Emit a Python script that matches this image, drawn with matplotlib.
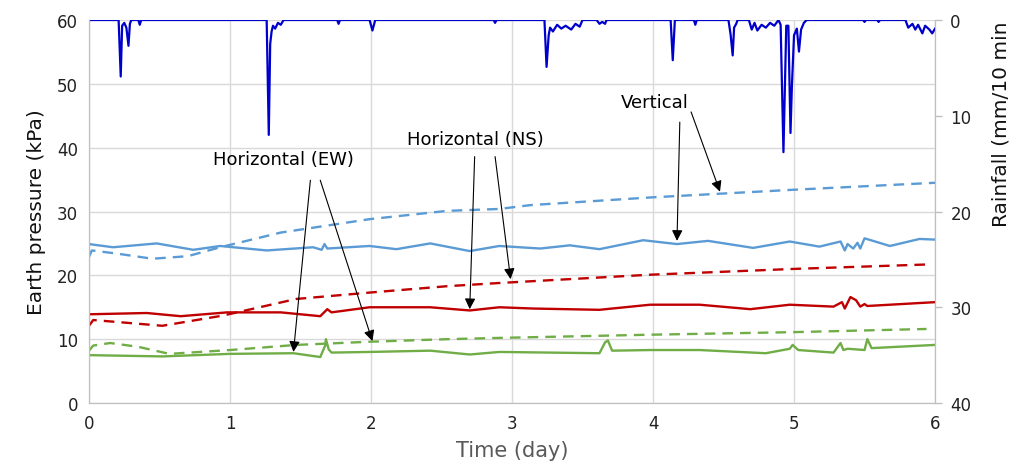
import matplotlib.pyplot as plt
import numpy as np

# rainfall (mm/10 min)
rain_t = [0, 0.21, 0.225, 0.235, 0.25, 0.265, 0.28, 0.29, 0.30, 0.35, 0.36, 0.37,
          1.26, 1.275, 1.285, 1.295, 1.305, 1.32, 1.34, 1.36, 1.38,
          1.76, 1.77, 1.78, 1.99, 2.01, 2.03, 2.87, 2.88, 2.89,
          3.23, 3.245, 3.26, 3.27, 3.29, 3.32, 3.35, 3.38, 3.42, 3.45, 3.48, 3.50,
          3.60, 3.62, 3.64, 3.66, 3.67,
          4.125, 4.14, 4.155, 4.29, 4.30, 4.31,
          4.535, 4.55, 4.565, 4.575, 4.59, 4.60,
          4.68, 4.70, 4.72, 4.74, 4.77, 4.80, 4.83, 4.86, 4.89,
          4.905, 4.925, 4.945, 4.96, 4.975, 4.985, 5.0, 5.02, 5.035, 5.05, 5.07, 5.09,
          5.49, 5.50, 5.51, 5.59, 5.60, 5.61,
          5.79, 5.81, 5.84, 5.86, 5.88, 5.91, 5.93, 5.96, 5.98, 6.0]
rain_v = [0, 0, 5.9, 0.6, 0.3, 0.8, 2.7, 0.4, 0, 0, 0.5, 0,
          0, 12.0, 2.5, 1.2, 0.6, 0.9, 0.3, 0.5, 0,
          0, 0.4, 0, 0, 1.1, 0, 0, 0.3, 0,
          0, 4.9, 1.6, 0.8, 1.2, 0.5, 0.9, 0.6, 1.0, 0.4, 0.7, 0,
          0, 0.4, 0.2, 0.4, 0,
          0, 4.2, 0, 0, 0.5, 0,
          0, 1.5, 3.7, 0.8, 0.4, 0,
          0, 1.0, 0.3, 1.1, 0.5, 0.8, 0.3, 0.6, 0,
          0.5, 13.8, 0.6, 0.6, 11.8, 6.9, 1.6, 0.9, 3.3, 1.0, 0.3, 0,
          0, 0.2, 0, 0, 0.2, 0,
          0, 0.8, 0.4, 1.0, 0.5, 1.4, 0.6, 1.0, 1.4, 0.9]

# vertical earth pressure (kPa)
vert_t = [0, 0.17, 0.48, 0.74, 0.93, 1.26, 1.59, 1.65, 1.67, 1.69, 1.99, 2.18, 2.42,
          2.70, 2.91, 3.20, 3.41, 3.62, 3.93, 4.17, 4.39, 4.71, 4.97, 5.18, 5.33,
          5.36, 5.38, 5.42, 5.45, 5.47, 5.50, 5.68, 5.89, 6.0]
vert_v = [24.9, 24.4, 25.0, 24.0, 24.6, 23.9, 24.4, 24.0, 24.9, 24.2, 24.6, 24.1, 25.0,
          23.8, 24.6, 24.2, 24.7, 24.1, 25.5, 24.9, 25.4, 24.3, 25.3, 24.5, 25.3,
          23.9, 24.9, 24.2, 25.1, 24.2, 25.8, 24.6, 25.7, 25.6]
vert_dash_t = [0, 0.02, 0.2, 0.45, 0.7, 0.93, 1.36, 1.99, 2.54, 2.91, 3.13, 3.98, 4.99, 6.0]
vert_dash_v = [22.9, 23.9, 23.4, 22.6, 23.0, 24.4, 26.7, 28.8, 30.1, 30.4, 31.0, 32.2, 33.4, 34.5]

# horizontal NS
ns_t = [0, 0.41, 0.65, 0.98, 1.36, 1.64, 1.69, 1.72, 1.99, 2.42, 2.70, 2.91, 3.15,
        3.62, 3.98, 4.33, 4.69, 4.97, 5.28, 5.34, 5.36, 5.40, 5.44, 5.47, 5.50,
        5.52, 6.0]
ns_v = [13.9, 14.1, 13.6, 14.2, 14.2, 13.6, 14.7, 14.2, 15.0, 15.0, 14.5, 15.0, 14.8,
        14.6, 15.4, 15.4, 14.7, 15.4, 15.1, 15.8, 14.8, 16.6, 16.1, 15.1, 15.5,
        15.2, 15.8]
ns_dash_t = [0, 0.03, 0.25, 0.52, 0.95, 1.47, 1.99, 2.54, 2.91, 3.98, 4.99, 5.94]
ns_dash_v = [12.1, 13.0, 12.6, 12.1, 13.7, 16.3, 17.3, 18.3, 18.8, 20.1, 21.0, 21.7]

# horizontal EW
ew_t = [0, 0.52, 1.0, 1.45, 1.64, 1.675, 1.68, 1.70, 1.72, 1.99, 2.42, 2.70, 2.91,
        3.62, 3.66, 3.68, 3.71, 3.98, 4.33, 4.80, 4.97, 4.99, 5.03, 5.28, 5.33,
        5.35, 5.38, 5.50, 5.52, 5.55, 6.0]
ew_v = [7.5, 7.3, 7.7, 7.8, 7.2, 9.0, 10.0, 8.4, 7.9, 8.0, 8.2, 7.6, 8.0,
        7.8, 9.5, 9.8, 8.2, 8.3, 8.3, 7.8, 8.5, 9.1, 8.3, 7.9, 9.4,
        8.3, 8.5, 8.3, 10.0, 8.6, 9.1]
ew_dash_t = [0, 0.03, 0.15, 0.35, 0.57, 1.0, 1.47, 1.99, 2.54, 2.91, 3.98, 4.99, 5.94]
ew_dash_v = [8.2, 9.0, 9.4, 8.8, 7.7, 8.3, 9.1, 9.6, 10.0, 10.2, 10.7, 11.1, 11.6]

blue = '#5B9BD5'
red = '#C00000'
green = '#70AD47'
grid_c = '#D9D9D9'
spine_c = '#BFBFBF'

plt.rcParams['font.family'] = 'DejaVu Sans'

fig = plt.figure(figsize=(10.16, 4.77), dpi=100)
ax = fig.add_axes([0.0876, 0.153, 0.8327, 0.803])
ax2 = ax.twinx()

dash = (0, (4.5, 3))
ax.plot(vert_t, vert_v, color=blue, lw=1.7)
ax.plot(vert_dash_t, vert_dash_v, color=blue, lw=1.7, linestyle=dash)
ax.plot(ns_t, ns_v, color=red, lw=1.7)
ax.plot(ns_dash_t, ns_dash_v, color=red, lw=1.7, linestyle=dash)
ax.plot(ew_t, ew_v, color=green, lw=1.7)
ax.plot(ew_dash_t, ew_dash_v, color=green, lw=1.7, linestyle=dash)

ax2.plot(rain_t, rain_v, color='#0000CC', lw=1.6)
ax2.set_ylim(40, 0)
ax2.set_yticks([0, 10, 20, 30, 40])

ax.set_xlim(0, 6)
ax.set_ylim(0, 60)
ax.set_xticks(range(7))
ax.set_yticks(range(0, 61, 10))
ax.grid(True, color=grid_c, lw=1.0)
ax.set_axisbelow(True)

for a in (ax, ax2):
    for s in a.spines.values():
        s.set_color(spine_c)
    a.spines['top'].set_visible(False)
ax.tick_params(axis='both', length=0, labelsize=12, colors='#222222', pad=8)
ax2.tick_params(axis='y', length=5, width=1, color=spine_c, labelsize=12,
                labelcolor='#222222', pad=6)

ax.set_xlabel('Time (day)', fontsize=15, color='#595959', labelpad=6)
ax.set_ylabel('Earth pressure (kPa)', fontsize=14.5, color='#111111', labelpad=8)
fig.text(0.985, 0.955, 'Rainfall (mm/10 min', rotation=90, fontsize=14.5,
         color='#111111', ha='center', va='top')

arrow = dict(arrowstyle='-|>', color='black', lw=0.8, mutation_scale=16,
             shrinkA=0, shrinkB=0)
ax.text(4.01, 47.2, 'Vertical', fontsize=13, ha='center', va='center')
ax.annotate('', xy=(4.17, 25.4), xytext=(4.19, 44.0), arrowprops=arrow)
ax.annotate('', xy=(4.475, 33.1), xytext=(4.27, 45.6), arrowprops=arrow)

ax.text(2.74, 41.4, 'Horizontal (NS)', fontsize=13, ha='center', va='center')
ax.annotate('', xy=(2.70, 14.7), xytext=(2.735, 38.6), arrowprops=arrow)
ax.annotate('', xy=(2.99, 19.4), xytext=(2.88, 38.6), arrowprops=arrow)

ax.text(1.376, 38.2, 'Horizontal (EW)', fontsize=13, ha='center', va='center')
ax.annotate('', xy=(1.45, 8.0), xytext=(1.57, 34.9), arrowprops=arrow)
ax.annotate('', xy=(2.01, 9.7), xytext=(1.64, 34.9), arrowprops=arrow)

fig.savefig('out.png', dpi=100)
